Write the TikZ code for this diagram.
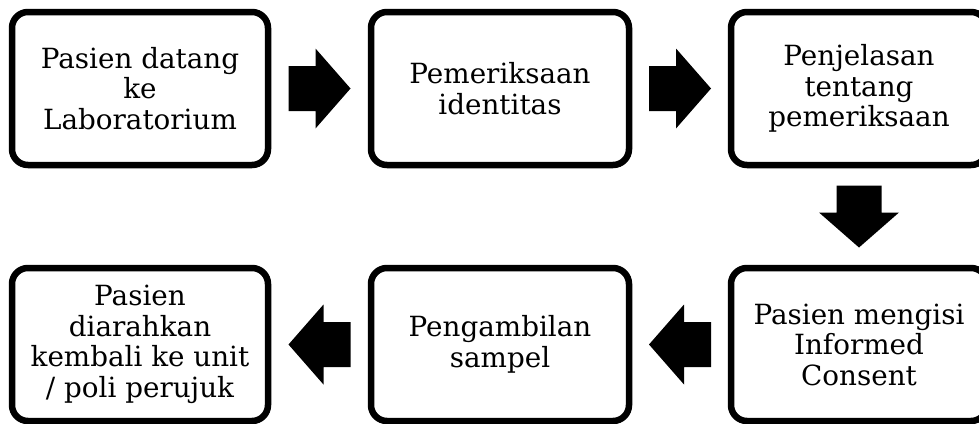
\documentclass[tikz,border=0pt]{standalone}
\usepackage{fontspec}
\setmainfont{DejaVu Serif}
\usetikzlibrary{calc}
\begin{document}
\begin{tikzpicture}[x=1pt,y=-1pt,
  flowbox/.style={draw=black, line width=6.5pt, rounded corners=16pt,
    minimum width=256pt, minimum height=153pt, align=center, inner sep=0pt,
    font=\fontsize{27.8}{30.5}\selectfont, text=black, fill=white},
  blockarrow/.pic={\fill[black] (-31,-22.5) -- (-4,-22.5) -- (-4,-40) -- (31,0)
     -- (-4,40) -- (-4,22.5) -- (-31,22.5) -- cycle;}]
\useasboundingbox (0,0) rectangle (979,423);
\clip (0,0) rectangle (979,423);
\node[flowbox] (b1) at (140,88.5) {Pasien datang\\ke\\Laboratorium};
\node[flowbox, minimum width=258pt] (b2) at (500,88.5) {Pemeriksaan\\identitas};
\node[flowbox] (b3) at (859,88.5) {Penjelasan\\tentang\\pemeriksaan};
\node[flowbox] (b6) at (859,344.5) {Pasien mengisi\\Informed\\Consent};
\node[flowbox, minimum width=258pt] (b5) at (500,344.5) {Pengambilan\\sampel};
\node[flowbox] (b4) at (140,344.5) {Pasien\\diarahkan\\kembali ke unit\\/ poli perujuk};
\pic at ($(b1.east)!0.5!(b2.west)$) {blockarrow};
\pic at ($(b2.east)!0.5!(b3.west)$) {blockarrow};
\pic[rotate=-90] at ($(b3.south)!0.5!(b6.north)$) {blockarrow};
\pic[rotate=180] at ($(b6.west)!0.5!(b5.east)$) {blockarrow};
\pic[rotate=180] at ($(b5.west)!0.5!(b4.east)$) {blockarrow};
\end{tikzpicture}
\end{document}
